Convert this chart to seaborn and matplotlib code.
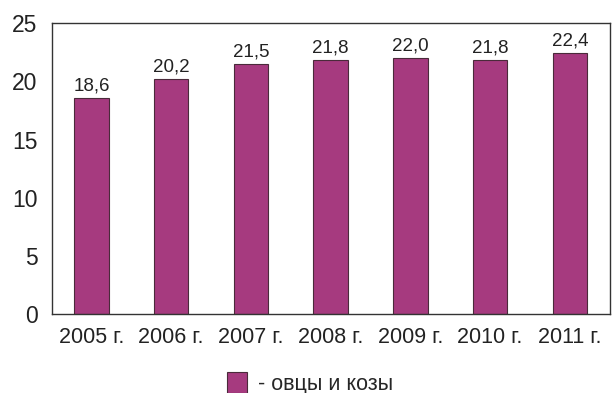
import numpy as np
import pandas as pd
import matplotlib
matplotlib.use("Agg")
import matplotlib.pyplot as plt
import seaborn as sns
from matplotlib.patches import Patch

years = ["2005 г.", "2006 г.", "2007 г.", "2008 г.", "2009 г.", "2010 г.", "2011 г."]
values = [18.6, 20.2, 21.5, 21.8, 22.0, 21.8, 22.4]
value_labels = ["18,6", "20,2", "21,5", "21,8", "22,0", "21,8", "22,4"]
series_name = "- овцы и козы"

sns.set_style("white")
plt.rcParams["font.family"] = ["Liberation Sans", "DejaVu Sans"]

bar_color = "#a63a7f"
edge_color = "#4a2a3a"
df = pd.DataFrame({"year": years, "value": values})

fig = plt.figure(figsize=(6.14, 3.93), dpi=100)
ax = fig.add_axes([0.084, 0.201, 0.909, 0.740])

sns.barplot(data=df, x="year", y="value", color=bar_color, width=0.43,
            edgecolor=edge_color, linewidth=0.8, saturation=1, ax=ax)

for i, lab in enumerate(value_labels):
    ax.text(i, values[i] + 0.3, lab, ha="center", va="bottom", fontsize=13.5, color="#222222")

ax.set_ylim(0, 25)
ax.set_xlim(-0.5, len(years) - 0.5)
ax.set_yticks([0, 5, 10, 15, 20, 25])
ax.set_xlabel("")
ax.set_ylabel("")

# x ticks sit on the category boundaries, labels at the centers
ax.set_xticks(np.arange(len(years)))
ax.set_xticklabels(years, fontsize=15.5, color="#222222")
ax.set_xticks(np.arange(-0.5, len(years) + 0.5, 1), minor=True)
ax.tick_params(axis="x", which="major", length=0, pad=9)
ax.tick_params(axis="x", which="minor", direction="inout", length=7, width=1, color="#333333")
ax.tick_params(axis="y", direction="inout", length=8, width=1, color="#333333",
               labelsize=16.5, labelcolor="#222222", pad=6)

for s in ax.spines.values():
    s.set_visible(True)
    s.set_color("#333333")
    s.set_linewidth(1.0)

handle = Patch(facecolor=bar_color, edgecolor=edge_color, linewidth=0.8)
fig.legend([handle], [series_name], loc="center", bbox_to_anchor=(0.505, 0.025),
           frameon=False, fontsize=15.5, handlelength=0.9, handleheight=1.1,
           handletextpad=0.5, borderpad=0, borderaxespad=0)

fig.savefig("out.png", dpi=100)
